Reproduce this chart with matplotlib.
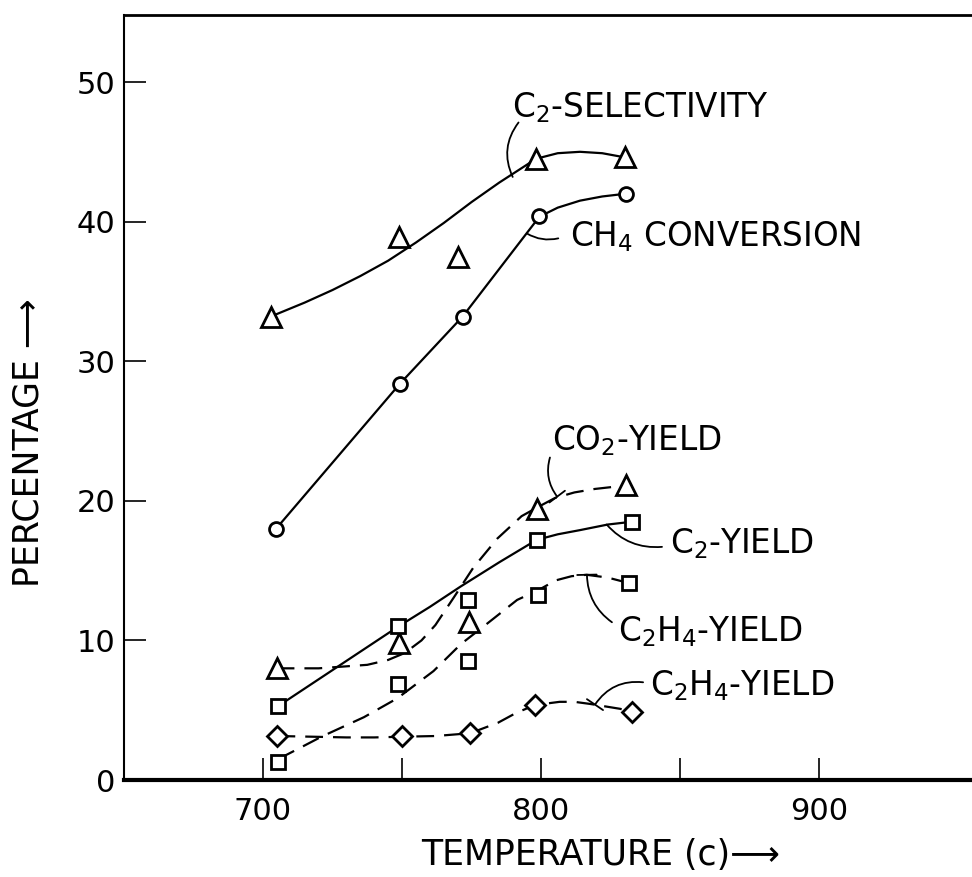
import matplotlib.pyplot as plt
from matplotlib.ticker import FixedLocator

# measured points (temperature in C, percentage)
sel_t = [702.8, 749.0, 770.3, 798.2, 830.2]
sel_v = [33.2, 38.9, 37.5, 44.5, 44.6]
ch4_t = [704.7, 749.3, 771.8, 799.4, 830.6]
ch4_v = [18.0, 28.4, 33.2, 40.4, 42.0]
co2_t = [704.9, 749.0, 774.2, 798.4, 830.6]
co2_v = [8.0, 9.8, 11.3, 19.4, 21.1]
c2y_t = [705.5, 748.7, 773.8, 798.4, 832.7]
c2y_v = [5.3, 11.0, 12.9, 17.2, 18.5]
c2h4_t = [705.5, 748.7, 773.6, 799.0, 831.7]
c2h4_v = [1.3, 6.9, 8.5, 13.25, 14.1]
dia_t = [705.2, 750.1, 774.5, 797.8, 832.7]
dia_v = [3.15, 3.15, 3.35, 5.37, 4.9]

# hand drawn fit curves
sel_curve_t = [702.8, 715, 725, 735, 745, 755, 765, 775, 785, 792, 798.2, 806, 814, 822, 830.2]
sel_curve_v = [33.2, 34.2, 35.1, 36.1, 37.2, 38.5, 39.9, 41.4, 42.8, 43.7, 44.5, 44.9, 45.0, 44.9, 44.6]
ch4_curve_t = [704.7, 749.3, 771.8, 799.4, 806, 814, 822, 830.6]
ch4_curve_v = [18.0, 28.4, 33.2, 40.35, 41.0, 41.5, 41.8, 42.0]
co2_curve_t = [704.9, 720, 737.5, 745, 751, 757, 762, 768.7, 775.6, 784.3, 793, 798.4, 805, 812, 819.4, 830.6]
co2_curve_v = [8.0, 8.0, 8.25, 8.6, 9.1, 10.0, 11.1, 13.1, 15.2, 17.3, 18.9, 19.5, 20.2, 20.6, 20.85, 21.1]
c2y_curve_t = [705.5, 748.7, 760, 771, 785, 798.4, 806, 814, 824, 832.7]
c2y_curve_v = [5.3, 11.0, 12.4, 13.85, 15.6, 17.2, 17.6, 17.9, 18.3, 18.5]
c2h4_curve_t = [705.5, 713.3, 721, 736.3, 748.3, 761.3, 771.2, 780.6, 791.4, 799, 805.3, 811, 816.4, 824, 831.7]
c2h4_curve_v = [1.5, 2.3, 3.1, 4.5, 5.85, 7.8, 9.74, 11.2, 12.9, 13.6, 14.3, 14.6, 14.7, 14.5, 14.1]
dia_curve_t = [705.2, 718, 730, 740, 750.1, 762, 774.5, 784.5, 791, 797.8, 806.7, 812, 817.6, 828.4, 832.7]
dia_curve_v = [3.15, 3.1, 3.05, 3.05, 3.1, 3.15, 3.35, 4.1, 4.8, 5.37, 5.6, 5.6, 5.45, 5.1, 4.9]

plt.rcParams["font.family"] = ["DejaVu Sans"]
plt.rcParams["mathtext.default"] = "regular"

fig = plt.figure(figsize=(9.72, 8.77), dpi=100)
ax = fig.add_axes([124 / 972, 97 / 877, 848 / 972, 765 / 877])

lw = 1.6
dash = (8, 4.5)
ax.plot(sel_curve_t, sel_curve_v, color="black", lw=lw)
ax.plot(ch4_curve_t, ch4_curve_v, color="black", lw=lw)
ax.plot(c2y_curve_t, c2y_curve_v, color="black", lw=lw)
ax.plot(co2_curve_t, co2_curve_v, color="black", lw=lw, dashes=dash)
ax.plot(c2h4_curve_t, c2h4_curve_v, color="black", lw=lw, dashes=dash)
ax.plot(dia_curve_t, dia_curve_v, color="black", lw=lw, dashes=dash)

mk = dict(linestyle="none", mfc="white", mec="black", mew=2.0, zorder=3)
ax.plot(sel_t, sel_v, marker="^", ms=14, **mk)
ax.plot(co2_t, co2_v, marker="^", ms=14, **mk)
ax.plot(ch4_t, ch4_v, marker="o", ms=10, **mk)
ax.plot(c2y_t, c2y_v, marker="s", ms=10, **mk)
ax.plot(c2h4_t, c2h4_v, marker="s", ms=10, **mk)
ax.plot(dia_t, dia_v, marker="D", ms=10, **mk)

# curve labels with leader lines
fs = 23.5
ax.text(789.6, 47.5, "C$_2$-SELECTIVITY", fontsize=fs, ha="left", va="baseline")
ax.text(810.4, 38.2, "CH$_4$ CONVERSION", fontsize=fs, ha="left", va="baseline")
ax.text(804.0, 23.6, "CO$_2$-YIELD", fontsize=fs, ha="left", va="baseline")
ax.text(846.4, 16.25, "C$_2$-YIELD", fontsize=fs, ha="left", va="baseline")
ax.text(827.7, 9.9, "C$_2$H$_4$-YIELD", fontsize=fs, ha="left", va="baseline")
ax.text(839.2, 6.1, "C$_2$H$_4$-YIELD", fontsize=fs, ha="left", va="baseline")

lead = dict(arrowstyle="-", lw=1.3, color="black", shrinkA=0, shrinkB=0)
tee = dict(arrowstyle="-[, widthB=0.7, lengthB=0", lw=1.3, color="black", shrinkA=0, shrinkB=0)
ax.annotate("", xy=(789.8, 43.2), xytext=(791.9, 47.1),
            arrowprops=dict(lead, connectionstyle="arc3,rad=0.3"))
ax.annotate("", xy=(794.9, 39.15), xytext=(806.2, 38.8),
            arrowprops=dict(lead, connectionstyle="arc3,rad=-0.2"))
ax.annotate("", xy=(805.8, 20.3), xytext=(803.2, 23.1),
            arrowprops=dict(tee, connectionstyle="arc3,rad=0.25"))
ax.annotate("", xy=(823.6, 18.3), xytext=(843.5, 16.7),
            arrowprops=dict(lead, connectionstyle="arc3,rad=-0.25"))
ax.annotate("", xy=(816.5, 14.7), xytext=(825.5, 11.3),
            arrowprops=dict(tee, connectionstyle="arc3,rad=-0.25"))
ax.annotate("", xy=(819.4, 5.4), xytext=(836.7, 7.0),
            arrowprops=dict(tee, connectionstyle="arc3,rad=0.3"))

ax.set_xlim(650, 955)
ax.set_ylim(0, 54.8)
ax.xaxis.set_major_locator(FixedLocator([700, 800, 900]))
ax.xaxis.set_minor_locator(FixedLocator([750, 850]))
ax.yaxis.set_major_locator(FixedLocator([0, 10, 20, 30, 40, 50]))
ax.tick_params(which="both", direction="in", length=16, width=1.2, labelsize=22)
ax.tick_params(axis="x", which="both", pad=12)
ax.tick_params(axis="y", pad=6)

ax.spines["right"].set_visible(False)
ax.spines["left"].set_linewidth(1.5)
ax.spines["top"].set_linewidth(2)
ax.spines["bottom"].set_linewidth(3)

ax.set_xlabel("TEMPERATURE (c)\u27f6", fontsize=25, va="center", ha="center")
ax.xaxis.set_label_coords(0.5625, -0.098)
ax.set_ylabel("PERCENTAGE \u27f6", fontsize=25, va="center", ha="center")
ax.yaxis.set_label_coords(-0.113, 0.441)

plt.savefig("out.png", dpi=100)
